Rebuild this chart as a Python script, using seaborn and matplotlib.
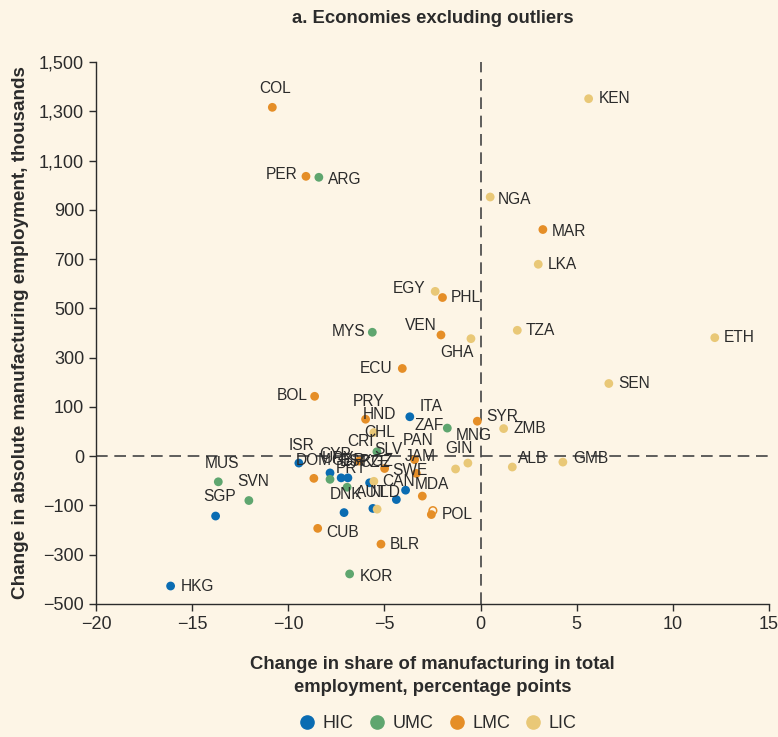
import numpy as np
import pandas as pd
import matplotlib.pyplot as plt
import seaborn as sns

# country codes, change in manufacturing share (pp), change in employment (thousands), income group
codes = ["HKG", "SGP", "ISR", "ITA", "CYP", "GBR", "ESP", "PRT", "SWE", "CAN", "AUT", "FRA",
         "ARG", "MYS", "ZAF", "SLV", "MUS", "SVN", "URY", "DNK", "KOR",
         "COL", "PER", "MAR", "PHL", "VEN", "ECU", "BOL", "HND", "SYR", "CRI", "KGZ", "PAN",
         "JAM", "MDA", "POL", "DOM", "CUB", "BLR",
         "KEN", "NGA", "LKA", "EGY", "GHA", "TZA", "ETH", "SEN", "ZMB", "ALB", "GMB", "GIN",
         "MNG", "CHL", "CZE", "NLD"]
share_change = [-16.12, -13.78, -9.45, -3.68, -7.83, -7.25, -6.90, -5.77, -3.90, -4.38, -5.60, -7.10,
                -8.41, -5.63, -1.73, -5.39, -13.64, -12.05, -7.83, -6.94, -6.81,
                -10.83, -9.08, 3.24, -1.98, -2.06, -4.07, -8.63, -5.98, -0.17, -6.33, -4.99, -3.43,
                -3.34, -3.03, -2.56, -8.67, -8.47, -5.18,
                5.62, 0.50, 3.00, -2.36, -0.50, 1.91, 12.18, 6.67, 1.20, 1.65, 4.28, -1.30,
                -0.66, -5.55, -5.55, -5.38]
emp_change = [-427, -143, -14, 80, -34, -44, -44, -54, -69, -88, -112, -129,
              1032, 403, 57, 9, -52, -90, -47, -63, -378,
              1316, 1036, 820, 544, 392, 256, 143, 75, 71, -10, -25, -7,
              -35, -81, -137, -45, -193, -257,
              1351, 952, 679, 569, 377, 411, 381, 195, 56, -22, -12, -26,
              -14, 48, -51, -115]
groups = ["HIC"] * 12 + ["UMC"] * 9 + ["LMC"] * 18 + ["LIC"] * 16

# one extra LMC observation drawn as an open circle
open_x = [-2.48]
open_y = [-121]

group_order = ["HIC", "UMC", "LMC", "LIC"]
colors = {"HIC": "#0A6CB2", "UMC": "#5FA66F", "LMC": "#E58E27", "LIC": "#E9C877"}
bg = "#FDF5E6"

df = pd.DataFrame({"code": codes, "x": share_change, "y": emp_change, "group": groups})

# label text -> (point, dx px, dy px, ha)
label_pos = {
    "COL": ("COL", 3, 19, "center"), "PER": ("PER", -8, 2, "right"), "ARG": ("ARG", 9, -2, "left"),
    "KEN": ("KEN", 10, 0, "left"), "NGA": ("NGA", 8, -2, "left"), "MAR": ("MAR", 9, -2, "left"),
    "LKA": ("LKA", 9, 0, "left"), "EGY": ("EGY", -10, 3, "right"), "PHL": ("PHL", 8, 0, "left"),
    "MYS": ("MYS", -7, 1, "right"), "VEN": ("VEN", -4, 9, "right"), "GHA": ("GHA", -14, -14, "center"),
    "TZA": ("TZA", 8, 0, "left"), "ETH": ("ETH", 9, 0, "left"), "SEN": ("SEN", 9, 0, "left"),
    "ECU": ("ECU", -10, 0, "right"), "BOL": ("BOL", -7, 1, "right"),
    "PRY": ("HND", 3, 18, "center"), "HND": ("HND", 14, 5, "center"),
    "ITA": ("ITA", 10, 10, "left"), "ZAF": ("ZAF", -4, 3, "right"), "SYR": ("SYR", 9, 5, "left"),
    "ZMB": ("ZMB", 10, 0, "left"), "MNG": ("MNG", 6, 28, "center"), "GIN": ("GIN", 3, 20, "center"),
    "ALB": ("ALB", 6, 9, "left"), "GMB": ("GMB", 10, 4, "left"), "CHL": ("CHL", 6, 0, "center"),
    "CRI": ("CRI", 2, 20, "center"), "SLV": ("SLV", 11, 2, "center"), "PAN": ("PAN", 4, 19, "center"),
    "JAM": ("JAM", 4, 17, "center"), "SWE": ("SWE", 4, 20, "center"), "CAN": ("CAN", 2, 18, "center"),
    "MDA": ("MDA", -8, 12, "left"), "POL": ("POL", 10, 0, "left"), "ISR": ("ISR", 3, 18, "center"),
    "MUS": ("MUS", 4, 18, "center"), "SVN": ("SVN", 4, 19, "center"), "SGP": ("SGP", 4, 20, "center"),
    "HKG": ("HKG", 10, 0, "left"), "KOR": ("KOR", 10, -3, "left"), "CUB": ("CUB", 9, -4, "left"),
    "BLR": ("BLR", 9, 0, "left"), "DNK": ("DNK", -1, -7, "center"), "AUT": ("AUT", -1, 16, "center"),
    "NLD": ("NLD", 8, 17, "center"), "KGZ": ("KGZ", -7, 7, "center"), "DOM": ("DOM", 0, 18, "center"),
    "URY": ("URY", 8, 21, "center"), "CYP": ("CYP", 5, 18, "center"), "GBR": ("GBR", 7, 17, "center"),
    "ESP": ("ESP", 7, 16, "center"), "PRT": ("PRT", -18, 14, "center"), "CZE": ("CZE", 1, 19, "center"),
}


# the vertical axis is stretched: 100 per step inside +-100, 200 per step outside
def fwd(v):
    v = np.asarray(v, dtype=float)
    a = np.abs(v)
    return np.where(a <= 100, v / 100, np.sign(v) * (1 + (a - 100) / 200))


def inv(t):
    t = np.asarray(t, dtype=float)
    a = np.abs(t)
    return np.where(a <= 1, t * 100, np.sign(t) * (100 + (a - 1) * 200))


sns.set_style("ticks")
plt.rcParams["font.family"] = ["Liberation Sans", "DejaVu Sans"]
plt.rcParams["axes.unicode_minus"] = True
narrow = ["Liberation Sans Narrow", "Liberation Sans", "DejaVu Sans"]
dark = "#2B2B2B"

fig = plt.figure(figsize=(7.78, 7.37), dpi=100, facecolor=bg)
ax = fig.add_axes([96 / 778, 1 - 604 / 737, (769 - 96) / 778, (604 - 62) / 737])
ax.set_facecolor(bg)
ax.set_yscale("function", functions=(fwd, inv))

ax.axhline(0, color="#444444", lw=1.2, ls=(0, (7, 4)), zorder=1)
ax.axvline(0, color="#444444", lw=1.2, ls=(0, (7, 4)), zorder=1)

sns.scatterplot(data=df, x="x", y="y", hue="group", hue_order=group_order, palette=colors,
                s=40, edgecolor="none", linewidth=0, ax=ax, zorder=3, legend=False)
ax.scatter(open_x, open_y, s=30, facecolor="none", edgecolor=colors["LMC"], linewidth=1.1, zorder=3)

pts = df.set_index("code")
for text, (code, dx, dy, ha) in label_pos.items():
    ax.annotate(text, (pts.loc[code, "x"], pts.loc[code, "y"]), xytext=(dx, dy),
                textcoords="offset pixels", ha=ha, va="center", fontsize=11.2, color=dark, zorder=4)

ax.set_xlim(-20, 15)
ax.set_ylim(-500, 1500)
ax.set_xticks([-20, -15, -10, -5, 0, 5, 10, 15])
yt = [-500, -300, -100, 0, 100, 300, 500, 700, 900, 1100, 1300, 1500]
ax.set_yticks(yt)
ax.set_yticklabels([f"{v:,}".replace("-", "\u2212") for v in yt])
ax.set_xticklabels([f"{v}".replace("-", "\u2212") for v in ax.get_xticks().astype(int)])
ax.minorticks_off()
ax.tick_params(axis="both", labelsize=13, colors=dark, length=5, width=1, direction="out")
for side in ["top", "right"]:
    ax.spines[side].set_visible(False)
for side in ["left", "bottom"]:
    ax.spines[side].set_color(dark)
    ax.spines[side].set_linewidth(1)

ax.set_xlabel("Change in share of manufacturing in total\nemployment, percentage points",
              family=narrow, fontweight="bold", fontsize=13.3, color=dark, labelpad=17, linespacing=1.45)
ax.set_ylabel("Change in absolute manufacturing employment, thousands",
              fontweight="bold", fontsize=13.6, color=dark, labelpad=7)
fig.text(0.556, 0.975, "a. Economies excluding outliers", family=narrow, fontweight="bold",
         fontsize=13.3, color=dark, ha="center", va="center")

handles = [plt.Line2D([], [], marker="o", ls="", color=colors[g], markersize=9.5, label=g)
           for g in group_order]
fig.legend(handles=handles, loc="center", bbox_to_anchor=(0.56, 0.018), ncol=4, frameon=False,
           fontsize=13, handletextpad=0.15, columnspacing=0.6, handlelength=1.4, labelcolor=dark)

fig.savefig("out.png", dpi=100, facecolor=bg)
